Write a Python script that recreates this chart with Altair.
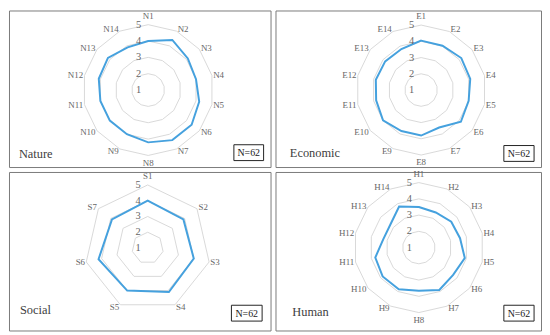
import altair as alt
import pandas as pd

# ---------------- data ----------------
nature_labels = ["N1", "N2", "N3", "N4", "N5", "N6", "N7", "N8", "N9", "N10", "N11", "N12", "N13", "N14"]
nature_values = [4.0, 4.4, 4.1, 4.0, 4.2, 4.4, 4.4, 4.2, 4.0, 4.0, 4.0, 4.1, 4.15, 3.9]

economic_labels = ["E1", "E2", "E3", "E4", "E5", "E6", "E7", "E8", "E9", "E10", "E11", "E12", "E13", "E14"]
economic_values = [4.04, 4.03, 4.16, 4.1, 4.0, 4.13, 3.56, 3.8, 3.8, 4.0, 3.84, 3.86, 3.83, 3.8]

social_labels = ["S1", "S2", "S3", "S4", "S5", "S6", "S7"]
social_values = [4.0, 3.9, 4.0, 4.1, 4.0, 4.2, 3.9]

human_labels = ["H1", "H2", "H3", "H4", "H5", "H6", "H7", "H8", "H9", "H10", "H11", "H12", "H13", "H14"]
human_values = [3.5, 3.4, 3.55, 3.6, 3.9, 3.7, 3.9, 3.65, 3.85, 3.85, 3.75, 3.25, 3.25, 3.8]

panel_titles = ["Nature", "Economic", "Social", "Human"]
sample_labels = ["N=62", "N=62", "N=62", "N=62"]
levels = [1, 2, 3, 4, 5]

SERIF = "Liberation Serif"
GRAY_TXT = "#666666"
BLUE = "#45A1DE"


def panel(labels, values, name, nlabel, W, H, cx, cy, ppu, tpos, box):
    n = len(labels)
    xs = alt.Scale(domain=[-cx / ppu, (W - cx) / ppu], nice=False, zero=False)
    ys = alt.Scale(domain=[-(H - cy) / ppu, cy / ppu], nice=False, zero=False)
    X = alt.X("x:Q", scale=xs, axis=None)
    Y = alt.Y("y:Q", scale=ys, axis=None)

    axes_df = pd.DataFrame({"label": labels, "value": values, "i": list(range(n))})
    grid_df = pd.DataFrame([{"level": lv, "i": i} for lv in levels[1:] for i in range(n)])
    th = f"2*PI*datum.i/{n}"

    grid = alt.Chart(grid_df).transform_calculate(
        r="datum.level - 1", th=th,
        x="datum.r*sin(datum.th)", y="datum.r*cos(datum.th)",
    ).mark_line(interpolate="linear-closed", color="#d9d9d9", strokeWidth=1).encode(
        x=X, y=Y, detail="level:N", order="i:Q"
    )

    line = alt.Chart(axes_df).transform_calculate(
        r="datum.value - 1", th=th,
        x="datum.r*sin(datum.th)", y="datum.r*cos(datum.th)",
    ).mark_line(interpolate="linear-closed", color=BLUE, strokeWidth=2).encode(
        x=X, y=Y, order="i:Q"
    )

    lab_base = alt.Chart(axes_df).transform_calculate(
        th=th, s="sin(datum.th)", c="cos(datum.th)",
        pad="abs(datum.s) < 0.3 ? (datum.c > 0 ? 0.55 : 0.45) : 0.05 + 0.12*abs(datum.c)",
        x="(4 + datum.pad)*datum.s", y="(4 + datum.pad)*datum.c",
    )
    txt = dict(font=SERIF, fontSize=9, color=GRAY_TXT, baseline="middle")
    lab_l = lab_base.transform_filter("datum.s > 0.3").mark_text(align="left", **txt).encode(x=X, y=Y, text="label:N")
    lab_r = lab_base.transform_filter("datum.s < -0.3").mark_text(align="right", **txt).encode(x=X, y=Y, text="label:N")
    lab_c = lab_base.transform_filter("abs(datum.s) <= 0.3").mark_text(align="center", **txt).encode(x=X, y=Y, text="label:N")

    vals = alt.Chart(pd.DataFrame({"level": levels})).transform_calculate(
        x="0", y="datum.level - 1"
    ).mark_text(align="right", baseline="middle", dx=-7, font=SERIF, fontSize=10.5, color=GRAY_TXT).encode(
        x=X, y=Y, text=alt.Text("level:Q", format="d")
    )

    title = alt.Chart(pd.DataFrame({"t": [name]})).mark_text(
        align="left", baseline="middle", font=SERIF, fontSize=12.5, color="#404040"
    ).encode(x=alt.value(tpos[0]), y=alt.value(tpos[1]), text="t:N")

    bx1, by1, bx2, by2 = box
    rect = alt.Chart(pd.DataFrame({"t": [nlabel]})).mark_rect(
        fill="white", stroke="#222222", strokeWidth=1
    ).encode(x=alt.value(bx1), x2=alt.value(bx2), y=alt.value(by1), y2=alt.value(by2))
    ntext = alt.Chart(pd.DataFrame({"t": [nlabel]})).mark_text(
        align="center", baseline="middle", font=SERIF, fontSize=10, color="#1a1a1a"
    ).encode(x=alt.value((bx1 + bx2) / 2), y=alt.value((by1 + by2) / 2 + 0.5), text="t:N")

    return alt.layer(grid, line, lab_l, lab_r, lab_c, vals, title, rect, ntext).properties(width=W, height=H)


p1 = panel(nature_labels, nature_values, panel_titles[0], sample_labels[0],
           264, 158, 140.5, 80.3, 16.5, (10, 144.7), (227, 135.5, 257, 151.5))
p2 = panel(economic_labels, economic_values, panel_titles[1], sample_labels[1],
           268, 158, 147, 80.3, 16.4, (14.5, 143.7), (230.5, 136.3, 261, 152.3))
p3 = panel(social_labels, social_values, panel_titles[2], sample_labels[2],
           264, 160, 140, 76.7, 15.9, (11, 139.3), (224.5, 134.5, 255.5, 150.5))
p4 = panel(human_labels, human_values, panel_titles[3], sample_labels[3],
           268, 160, 144.7, 76.3, 16.4, (17, 141), (230.5, 134.5, 261, 150.5))

chart = alt.concat(
    p1, p2, p3, p4,
    columns=2,
    spacing=5,
    bounds="flush",
    align="each",
).properties(padding=0, background="white").configure_view(stroke="#7a7a7a", strokeWidth=1)

chart.save("out.html", embed_options={"renderer": "svg", "actions": False})
